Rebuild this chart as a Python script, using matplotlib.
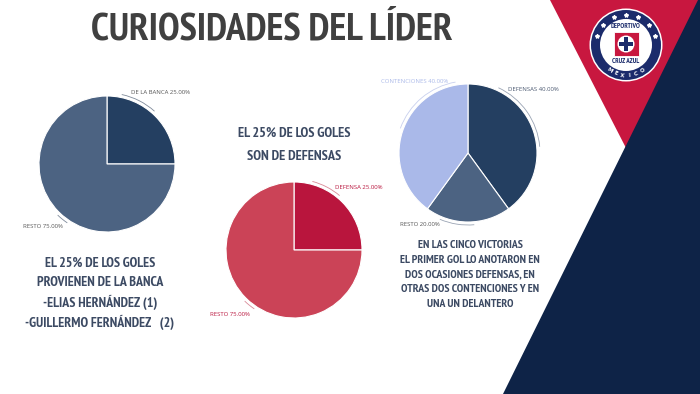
import numpy as np
import matplotlib
matplotlib.use('Agg')
import matplotlib.pyplot as plt
from matplotlib.patches import Polygon, Circle, Rectangle, Arc

# DATA

banca_labels = ['DE LA BANCA', 'RESTO']
banca_values = [25, 75]

defensa_labels = ['DEFENSA', 'RESTO']
defensa_values = [25, 75]

primer_gol_labels = ['DEFENSAS', 'RESTO', 'CONTENCIONES']
primer_gol_values = [40, 20, 40]

title = 'CURIOSIDADES DEL LÍDER'
text_banca = ['EL 25% DE LOS GOLES', 'PROVIENEN DE LA BANCA',
              '-ELIAS HERNÁNDEZ (1)', '-GUILLERMO FERNÁNDEZ   (2)']
text_defensa = ['EL 25% DE LOS GOLES', 'SON DE DEFENSAS']
text_victorias = ['EN LAS CINCO VICTORIAS', 'EL PRIMER GOL LO ANOTARON EN',
                  'DOS OCASIONES DEFENSAS, EN', 'OTRAS DOS CONTENCIONES Y EN',
                  'UNA UN DELANTERO']

# COLORS

NAVY = '#243F61'
SLATE = '#4C6382'
LAVENDER = '#AAB9E9'
CRIMSON = '#B9153D'
ROSE = '#CB4357'
BG_RED = '#C8173F'
BG_NAVY = '#0E2347'
LOGO_NAVY = '#1B2B6B'
TXT = '#3C4A63'

COND = ['PT Sans Narrow', 'DejaVu Sans']
SMALL = ['Open Sans', 'DejaVu Sans']

W, H = 700, 394


def Y(y):
    # image rows -> data y
    return H - y


fig = plt.figure(figsize=(7, 3.94), dpi=100)
ax = fig.add_axes([0, 0, 1, 1])

# BACKGROUND SHAPES

ax.add_patch(Polygon([(550, Y(0)), (700, Y(0)), (626, Y(148))], closed=True,
                     facecolor=BG_RED, edgecolor='none', zorder=0))
ax.add_patch(Polygon([(698, Y(0)), (700, Y(0)), (700, Y(394)), (503, Y(394))],
                     closed=True, facecolor=BG_NAVY, edgecolor='none', zorder=1))

# LOGO

lx, ly = 626, Y(45)
ax.add_patch(Circle((lx, ly), 36.5, facecolor='white', edgecolor='none', zorder=2))
ax.add_patch(Circle((lx, ly), 35, facecolor=LOGO_NAVY, edgecolor='none', zorder=3))
ax.add_patch(Circle((lx, ly), 26, facecolor='white', edgecolor='none', zorder=4))
for k in range(-3, 4):
    a = np.radians(90 + k * 24)
    ax.plot(lx + 30.5 * np.cos(a), ly + 30.5 * np.sin(a), marker='*',
            color='white', markersize=3, zorder=5)
for i, ch in enumerate('MEXICO'):
    a = np.radians(237 + i * 13.2)
    ax.text(lx + 30.5 * np.cos(a), ly + 30.5 * np.sin(a), ch, color='white',
            fontsize=4, fontweight='bold', ha='center', va='center',
            rotation=np.degrees(a) + 90, zorder=6)
ax.add_patch(Rectangle((lx - 12.5, Y(56)), 25, 24, facecolor=BG_RED,
                       edgecolor='white', linewidth=0.6, zorder=5))
ax.add_patch(Circle((lx, Y(44)), 8.5, facecolor='white', edgecolor='none', zorder=6))
ax.add_patch(Rectangle((lx - 2.2, Y(51)), 4.4, 14, facecolor=LOGO_NAVY, zorder=7))
ax.add_patch(Rectangle((lx - 7, Y(46.2)), 14, 4.4, facecolor=LOGO_NAVY, zorder=7))
ax.text(lx, Y(26.5), 'DEPORTIVO', color=LOGO_NAVY, fontsize=5, fontweight='bold',
        ha='center', va='center', family=COND, zorder=7)
ax.text(lx, Y(61.5), 'CRUZ AZUL', color=LOGO_NAVY, fontsize=5, fontweight='bold',
        ha='center', va='center', family=COND, zorder=7)

# TITLE

ax.text(91, Y(30), title, fontsize=28.2, fontweight='bold', color='#404040',
        family=COND, ha='left', va='center', zorder=5)

# PIES

wp = dict(edgecolor='white', linewidth=0.8)

c1, r1 = (107, Y(164)), 68
ax.pie(banca_values, colors=[NAVY, SLATE], startangle=90, counterclock=False,
       center=c1, radius=r1, wedgeprops=wp, frame=True)

c2, r2 = (294, Y(250)), 68
ax.pie(defensa_values, colors=[CRIMSON, ROSE], startangle=90, counterclock=False,
       center=c2, radius=r2, wedgeprops=wp, frame=True)

c3, r3 = (468, Y(153)), 69
ax.pie(primer_gol_values, colors=[NAVY, SLATE, LAVENDER], startangle=90,
       counterclock=False, center=c3, radius=r3, wedgeprops=wp, frame=True)


def leader(center, r, t1, t2, color):
    ax.add_patch(Arc(center, 2 * (r + 3), 2 * (r + 3), theta1=t1, theta2=t2,
                     color=color, linewidth=0.6, zorder=4))


def pct(v):
    return '%.2f%%' % v


lab_fs = 4.3

# pie 1 labels
leader(c1, r1, 48, 78, '#7F8A9A')
ax.text(131, Y(92), banca_labels[0] + ' ' + pct(banca_values[0]), fontsize=lab_fs,
        color='#555555', family=SMALL, ha='left', va='center')
leader(c1, r1, 226, 236, '#7F8A9A')
ax.text(23, Y(226), banca_labels[1] + ' ' + pct(banca_values[1]), fontsize=lab_fs,
        color='#555555', family=SMALL, ha='left', va='center')

# pie 2 labels
leader(c2, r2, 50, 75, '#D98A98')
ax.text(335, Y(187), defensa_labels[0] + ' ' + pct(defensa_values[0]), fontsize=lab_fs,
        color=CRIMSON, family=SMALL, ha='left', va='center')
leader(c2, r2, 226, 236, '#D98A98')
ax.text(210, Y(314), defensa_labels[1] + ' ' + pct(defensa_values[1]), fontsize=lab_fs,
        color=CRIMSON, family=SMALL, ha='left', va='center')

# pie 3 labels
leader(c3, r3, 5, 65, '#9AA4B4')
ax.text(508, Y(89), primer_gol_labels[0] + ' ' + pct(primer_gol_values[0]), fontsize=lab_fs,
        color='#4A5870', family=SMALL, ha='left', va='center')
leader(c3, r3, 247, 275, '#9AA4B4')
ax.text(400, Y(224), primer_gol_labels[1] + ' ' + pct(primer_gol_values[1]), fontsize=lab_fs,
        color='#555555', family=SMALL, ha='left', va='center')
leader(c3, r3, 100, 160, '#C8D0EE')
ax.text(381, Y(81), primer_gol_labels[2] + ' ' + pct(primer_gol_values[2]), fontsize=lab_fs,
        color=LAVENDER, family=SMALL, ha='left', va='center')

# TEXT BLOCKS

for i, line in enumerate(text_banca):
    ax.text(100, Y(263 + i * 19.7), line, fontsize=10, fontweight='bold', color=TXT,
            family=COND, ha='center', va='center', zorder=5)

for i, line in enumerate(text_defensa):
    ax.text(294, Y(133 + i * 23), line, fontsize=10.3, fontweight='bold', color=TXT,
            family=COND, ha='center', va='center', zorder=5)

for i, line in enumerate(text_victorias):
    ax.text(470, Y(245 + i * 14.8), line, fontsize=8.5, fontweight='bold', color=TXT,
            family=COND, ha='center', va='center', zorder=5)

ax.set_xlim(0, W)
ax.set_ylim(0, H)
ax.set_aspect('equal')
ax.axis('off')

fig.savefig('out.png', dpi=100, facecolor='white')
